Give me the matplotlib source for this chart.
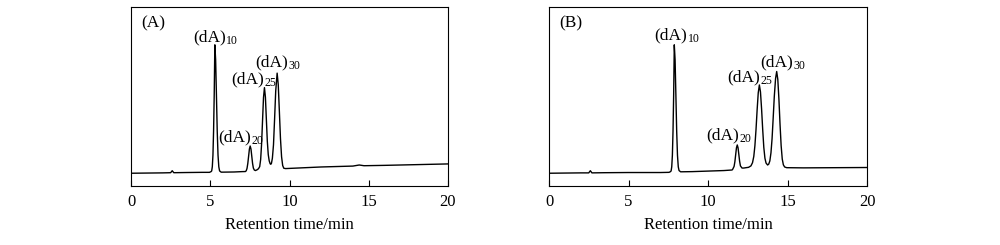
import matplotlib
matplotlib.use("Agg")
import matplotlib.pyplot as plt

plt.rcParams['font.family'] = ['Liberation Serif', 'DejaVu Serif']
plt.rcParams['font.size'] = 12

# chromatogram (A): retention time (min) and detector signal (a.u.)
time_a = [0.0, 1.0, 2.0, 2.5, 2.6, 2.7, 3.5, 4.5, 4.95,
          5.05, 5.09, 5.13, 5.17, 5.21, 5.25, 5.29, 5.34, 5.39, 5.44, 5.49, 5.54, 5.59, 5.69,
          6.5, 7.0, 7.22, 7.27, 7.32, 7.37, 7.42, 7.47, 7.52, 7.57, 7.62, 7.67, 7.72, 7.78, 7.85,
          7.95, 8.04, 8.12, 8.18, 8.24, 8.30, 8.36, 8.42, 8.48, 8.54, 8.60, 8.66, 8.72, 8.78,
          8.82, 8.86, 8.92, 8.99, 9.06, 9.13, 9.22, 9.29, 9.36, 9.43, 9.50, 9.57, 9.64, 9.75,
          10.5, 12.0, 14.0, 14.4, 14.7, 16.0, 18.0, 20.0]
signal_a = [7.1, 7.2, 7.3, 7.4, 8.5, 7.4, 7.5, 7.6, 7.6,
            8.0, 8.4, 10.7, 17.2, 30.7, 50.8, 78.8, 70.4, 50.8, 30.7, 17.2, 10.7, 8.4, 7.7,
            7.8, 8.0, 8.05, 8.5, 9.8, 12.6, 16.6, 20.6, 22.3, 20.6, 16.6, 12.6, 10.0, 8.9, 8.6,
            9.0, 9.6, 10.8, 14.8, 23.6, 36.7, 49.4, 54.9, 49.6, 37.2, 25.0, 17.5, 14.0, 12.4,
            12.1, 12.6, 15.5, 23.0, 37.5, 53.0, 63.0, 56.6, 41.8, 26.5, 16.3, 11.4, 9.9, 9.7,
            10.0, 10.6, 11.1, 11.7, 11.3, 11.5, 11.9, 12.3]

# chromatogram (B)
time_b = [0.0, 1.0, 2.0, 2.5, 2.6, 2.7, 3.5, 5.0, 7.0, 7.55,
          7.64, 7.68, 7.72, 7.76, 7.80, 7.84, 7.88, 7.93, 7.98, 8.03, 8.08, 8.13, 8.18, 8.28,
          9.0, 10.0, 11.0, 11.5, 11.54, 11.64, 11.69, 11.74, 11.79, 11.84, 11.89, 11.94, 11.99,
          12.04, 12.14, 12.25, 12.39, 12.55, 12.70, 12.80, 12.88, 12.95, 13.02, 13.09, 13.16,
          13.23, 13.30, 13.37, 13.44, 13.51, 13.58, 13.65, 13.75, 13.82, 13.89, 13.96, 14.03,
          14.10, 14.17, 14.25, 14.32, 14.39, 14.46, 14.53, 14.60, 14.67, 14.74, 14.82, 14.95,
          16.0, 18.0, 20.0]
signal_b = [7.1, 7.2, 7.3, 7.3, 8.5, 7.3, 7.4, 7.5, 7.5, 7.6,
            8.0, 8.4, 10.7, 17.2, 30.7, 50.8, 78.8, 70.4, 50.8, 30.7, 17.2, 10.7, 8.6, 7.9,
            8.0, 8.3, 8.6, 8.9, 9.1, 10.9, 13.5, 17.4, 21.3, 22.9, 21.3, 17.5, 13.7,
            11.2, 10.0, 10.0, 10.2, 10.4, 11.2, 13.0, 16.5, 22.5, 31.5, 42.5, 52.0,
            56.4, 52.5, 43.0, 31.5, 21.5, 15.5, 12.8, 11.7, 12.2, 14.0, 18.5, 26.5,
            38.0, 50.0, 60.0, 63.9, 59.5, 48.5, 34.5, 22.5, 15.0, 11.8, 10.6, 10.2,
            10.1, 10.2, 10.3]

peak_names = ['10', '20', '25', '30']
panel_names = ['(A)', '(B)']

fig = plt.figure(figsize=(10, 2.45), dpi=100)
ax_a = fig.add_axes([0.131, 0.241, 0.317, 0.731])
ax_b = fig.add_axes([0.549, 0.241, 0.318, 0.731])

# where "(dA)" ends and its subscript starts (time, signal at text baseline)
label_pos = {
    '(A)': [(5.97, 80.8), (7.57, 25.0), (8.39, 57.3), (9.90, 66.6)],
    '(B)': [(8.69, 82.0), (11.98, 26.0), (13.28, 58.3), (15.33, 66.6)],
}

for ax, name, t, s in [(ax_a, panel_names[0], time_a, signal_a),
                       (ax_b, panel_names[1], time_b, signal_b)]:
    ax.plot(t, s, color='black', lw=1.0)
    ax.set_xlim(0, 20)
    ax.set_ylim(0, 100)
    ax.set_yticks([])
    ax.set_xticks([0, 5, 10, 15, 20])
    ax.tick_params(axis='x', direction='in', length=4, width=0.8, pad=6, labelsize=12)
    for sp in ax.spines.values():
        sp.set_linewidth(0.8)
    ax.set_xlabel('Retention time/min', fontsize=12, labelpad=5)
    ax.text(0.032, 0.955, name, transform=ax.transAxes, ha='left', va='top', fontsize=12.5)
    for pk, (x, y) in zip(peak_names, label_pos[name]):
        ax.text(x, y, '(dA)', ha='right', va='baseline', fontsize=12.5)
        ax.annotate(pk, (x, y), xytext=(0.3, -2.0), textcoords='offset points',
                    ha='left', va='baseline', fontsize=8.5)

fig.savefig('out.png', dpi=100)
